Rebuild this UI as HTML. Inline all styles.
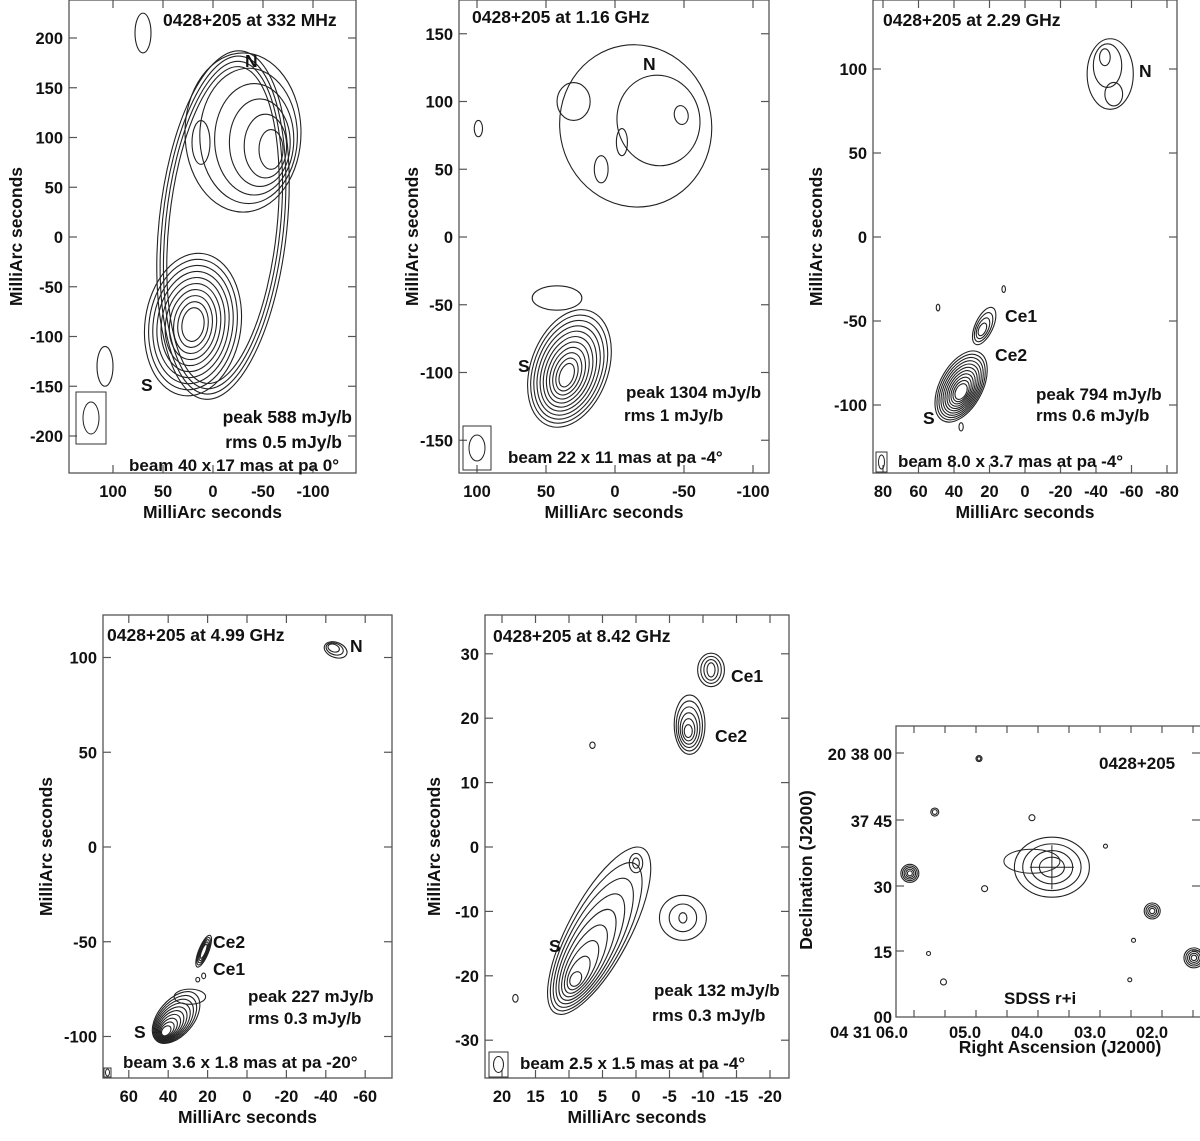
<!DOCTYPE html>
<html><head><meta charset="utf-8"><style>
html,body{margin:0;padding:0;background:#fff;}
svg{display:block;}
text{font-family:"Liberation Sans",Arial,sans-serif;font-weight:bold;fill:#111;}
</style></head><body>
<svg id="fig" width="1200" height="1141" viewBox="0 0 1200 1141" xmlns="http://www.w3.org/2000/svg"></svg>
<script>
// ---- Data (components: [cx,cy,rx,ry,innerCx,innerCy,innerRx,innerRy,rotDeg,levels]) ----
const p1Components=[[-10,12,64,176,-10,12,54,160,6,4],[20,-88,48,72,20,-88,11,17,8,10],[-30,105,58,80,-58,88,12,20,0,6],[12,95,9,22,12,92,7,14,0,1],[70,205,8,20,70,205,8,20,0,1],[108,-130,8,20,108,-130,8,20,0,1]];
const p2Components=[[-15,82,55,60,-48,90,5,7,-10,3],[30,100,12,14,30,100,9,11,0,1],[33,-97,28,45,35,-102,5,9,20,11],[42,-45,18,9,42,-45,14,7,0,1],[99,80,3,6,99,80,3,6,0,1],[-5,70,4,10,-5,72,3,8,0,1],[10,50,5,10,10,50,4,8,0,1]];
const p3Components=[[-48,97,13,21,-45,107,3,5,0,3],[-50,85,5,7,-50,85,3,4,0,1],[36,-89,12,23,36,-92,3,5,28,11],[23,-53,5,12,24,-55,2,4,25,4],[49,-42,1,2,49,-42,1,2,0,1],[12,-31,1,2,12,-31,1,2,0,1],[36,-113,1.2,2.5,36,-113,1.2,2.5,0,1]];
const p4Components=[[-45,104,6,4,-44,105,3,2,20,3],[22,-55,2.5,9,22,-55,1,4,22,5],[36,-90,9,16,41,-97,2,3,40,10],[29,-79,8,4,29,-79,7,3,0,1],[22,-68,1,1.5,22,-68,1,1.5,0,1],[25,-70,1,1.2,25,-70,1,1.2,0,1]];
const p5Components=[[-11.2,27.5,2,2.6,-11.2,27.5,0.6,1.1,0,4],[-8,19,2.3,4.6,-7.8,18,0.6,1,0,6],[5.5,-13,4.6,14.5,9,-20.5,0.8,1.2,28,9],[-7,-11,3.5,3.5,-7,-11,0.6,0.8,0,3],[0,-2.5,1,1.5,0,-2.5,0.5,0.8,0,2],[18,-23.5,0.4,0.6,18,-23.5,0.4,0.6,0,1],[6.5,15.8,0.4,0.5,6.5,15.8,0.4,0.5,0,1]];
// SDSS panel: RA seconds, Dec arcsec (relative to 20 37 00), radius px, levels
const p6Ra=[3.61,5.89,2.0,1.33,4.78,5.49,4.69,2.75,5.35,5.59,2.3,2.36,3.93];
const p6Dec=[34.2,32.8,24.2,13.5,59,46.8,29.3,39,8,14.5,17.5,8.5,45.5];
const p6Rad=[30,9,8,10,3,4,3,2,3,2,2,2,3];
const p6Lev=[4,5,4,5,2,2,1,1,1,1,1,1,1];
</script>
<script>
const svg=document.getElementById('fig');
const NS='http://www.w3.org/2000/svg';
function mk(tag,attrs,parent){const e=document.createElementNS(NS,tag);for(const k in attrs)e.setAttribute(k,attrs[k]);(parent||svg).appendChild(e);return e;}
function txt(x,y,s,size,anchor,parent,rot){const t=mk('text',{x:x,y:y,'font-size':size,'text-anchor':anchor||'start'},parent);if(rot)t.setAttribute('transform','rotate(-90 '+x+' '+y+')');t.textContent=s;return t;}

function panel(cfg){
  const g=mk('g',{});
  
  
  const [L,T,R,B]=cfg.frame;
  const X=v=>cfg.x0-v*cfg.sx, Y=v=>cfg.y0-v*cfg.sy;
  const fr=mk('rect',{x:L,y:T,width:R-L,height:B-T,fill:'none',stroke:'#555','stroke-width':1.3},g);
  
  
  cfg.xt.forEach(v=>{const px=X(v);
    mk('line',{x1:px,y1:B,x2:px,y2:B-8,stroke:'#555','stroke-width':1.2},g);
    mk('line',{x1:px,y1:T,x2:px,y2:T+8,stroke:'#555','stroke-width':1.2},g);
    const t=txt(px,B+24,String(v),16.5,'middle',g);
    });
  cfg.yt.forEach(v=>{const py=Y(v);
    mk('line',{x1:L,y1:py,x2:L+8,y2:py,stroke:'#555','stroke-width':1.2},g);
    mk('line',{x1:R,y1:py,x2:R-8,y2:py,stroke:'#555','stroke-width':1.2},g);
    const t=txt(L-6,py+6,String(v),16.5,'end',g);
    });
  const xt=txt((L+R)/2,B+45,'MilliArc seconds',17.5,'middle',g);
  
  const yt=txt(cfg.ytx,(T+B)/2,'MilliArc seconds',17.5,'middle',g,true);
  
  cfg.comps.forEach(c=>{
    const [cx,cy,rx,ry,ix,iy,irx,iry,rot,n]=c;
    for(let k=0;k<n;k++){
      const f=n>1?k/(n-1):0;
      const ex=X(cx+(ix-cx)*f), ey=Y(cy+(iy-cy)*f);
      const erx=(rx+(irx-rx)*f)*cfg.sx, ery=(ry+(iry-ry)*f)*cfg.sy;
      const e=mk('ellipse',{cx:ex,cy:ey,rx:Math.max(erx,0.5),ry:Math.max(ery,0.5),fill:'none',stroke:'#222','stroke-width':1.1,transform:'rotate('+rot+' '+ex+' '+ey+')'},g);
      
      
    }
  });
  if(cfg.beam){const b=cfg.beam;
    const bx=mk('rect',{x:b[0],y:b[1],width:b[2],height:b[3],fill:'none',stroke:'#333','stroke-width':1},g);
    
    const be=mk('ellipse',{cx:b[0]+b[2]/2,cy:b[1]+b[3]/2,rx:b[4],ry:b[5],fill:'none',stroke:'#222','stroke-width':1},g);
    }
  cfg.labels.forEach(l=>{const t=txt(l[0],l[1],l[2],l[3]||17,l[4]||'start',g);
    });
}

panel({name:'panel-332mhz',frame:[69,0,356,473],x0:213,sx:1.0,y0:237,sy:0.995,
  xt:[100,50,0,-50,-100],yt:[200,150,100,50,0,-50,-100,-150,-200],ytx:22,comps:p1Components,
  beam:[76,392,30,52,8,16],
  labels:[[163,26,'0428+205 at 332 MHz',17.5,'start','panel-title'],[245,67,'N',17.5,'start','label-n'],[141,391,'S',17.5,'start','label-s'],
  [352,423,'peak 588 mJy/b',17.5,'end','peak-text'],[342,448,'rms 0.5 mJy/b',17.5,'end','rms-text'],[339,471,'beam 40 x 17 mas at pa 0°',17,'end','beam-text']]});
panel({name:'panel-1p16ghz',frame:[459,0,769,473],x0:615,sx:1.38,y0:237,sy:1.355,
  xt:[100,50,0,-50,-100],yt:[150,100,50,0,-50,-100,-150],ytx:418,comps:p2Components,
  beam:[463,426,28,44,8,13],
  labels:[[472,23,'0428+205 at 1.16 GHz',17.5,'start','panel-title'],[643,70,'N',17.5,'start','label-n'],[518,372,'S',17.5,'start','label-s'],
  [626,398,'peak 1304 mJy/b',17,'start','peak-text'],[624,421,'rms 1 mJy/b',17,'start','rms-text'],[508,463,'beam 22 x 11 mas at pa -4°',17,'start','beam-text']]});
panel({name:'panel-2p29ghz',frame:[873,0,1177,473],x0:1025,sx:1.775,y0:237,sy:1.68,
  xt:[80,60,40,20,0,-20,-40,-60,-80],yt:[100,50,0,-50,-100],ytx:822,comps:p3Components,
  beam:[876,452,11,20,3,7],
  labels:[[883,26,'0428+205 at 2.29 GHz',17.5,'start','panel-title'],[1139,77,'N',17.5,'start','label-n'],[1005,322,'Ce1',17.5,'start','label-ce1'],[995,361,'Ce2',17.5,'start','label-ce2'],[923,424,'S',17.5,'start','label-s'],
  [1036,400,'peak 794 mJy/b',17,'start','peak-text'],[1036,421,'rms 0.6 mJy/b',17,'start','rms-text'],[898,467,'beam 8.0 x 3.7 mas at pa -4°',17,'start','beam-text']]});
panel({name:'panel-4p99ghz',frame:[103,615,392,1078],x0:247,sx:1.97,y0:847,sy:1.895,
  xt:[60,40,20,0,-20,-40,-60],yt:[100,50,0,-50,-100],ytx:52,comps:p4Components,
  beam:[104,1068,7,9,2,3.5],
  labels:[[107,641,'0428+205  at 4.99 GHz',17.5,'start','panel-title'],[350,652,'N',17.5,'start','label-n'],[213,948,'Ce2',17.5,'start','label-ce2'],[213,975,'Ce1',17.5,'start','label-ce1'],[134,1038,'S',17.5,'start','label-s'],
  [248,1002,'peak 227 mJy/b',17,'start','peak-text'],[248,1024,'rms 0.3 mJy/b',17,'start','rms-text'],[123,1068,'beam 3.6 x 1.8 mas at pa -20°',17,'start','beam-text']]});
panel({name:'panel-8p42ghz',frame:[485,615,789,1078],x0:636,sx:6.7,y0:847,sy:6.44,
  xt:[20,15,10,5,0,-5,-10,-15,-20],yt:[30,20,10,0,-10,-20,-30],ytx:440,comps:p5Components,
  beam:[489,1052,19,25,5,8],
  labels:[[493,642,'0428+205 at 8.42 GHz',17.5,'start','panel-title'],[731,682,'Ce1',17.5,'start','label-ce1'],[715,742,'Ce2',17.5,'start','label-ce2'],[549,952,'S',17.5,'start','label-s'],
  [654,996,'peak 132 mJy/b',17,'start','peak-text'],[652,1021,'rms 0.3 mJy/b',17,'start','rms-text'],[520,1069,'beam 2.5 x 1.5 mas at pa -4°',17,'start','beam-text']]});

// SDSS optical panel
(function(){
  const g=mk('g',{});
  
  
  const L=896,T=726,R=1200,B=1017;
  const X=ra=>903+(6.0-ra)*62.3, Y=d=>1017-d*4.38;
  const clip=mk('clipPath',{id:'sdssclip'},g);
  mk('rect',{x:L,y:T,width:R-L+2,height:B-T},clip);
  const fr=mk('rect',{x:L,y:T,width:R-L+2,height:B-T,fill:'none',stroke:'#555','stroke-width':1.3},g);
  
  for(let k=0;k<10;k++){const px=914+31*k;
    mk('line',{x1:px,y1:T,x2:px,y2:T+7,stroke:'#555','stroke-width':1.2},g);
    mk('line',{x1:px,y1:B,x2:px,y2:B-7,stroke:'#555','stroke-width':1.2},g);}
  [753,820,886,951].forEach(py=>{
    mk('line',{x1:L,y1:py,x2:L+8,y2:py,stroke:'#555','stroke-width':1.2},g);
    mk('line',{x1:R,y1:py,x2:R-8,y2:py,stroke:'#555','stroke-width':1.2},g);});
  const yl=[['20 38 00',760],['37 45',827],['30',893],['15',958],['00',1023]];
  yl.forEach(a=>{const t=txt(892,a[1],a[0],16.5,'end',g);});
  const xl=[['04 31 06.0',869],['05.0',965],['04.0',1027],['03.0',1090],['02.0',1152]];
  xl.forEach(a=>{const t=txt(a[1],1038,a[0],16.5,'middle',g);});
  let t=txt(1060,1053,'Right Ascension (J2000)',17.5,'middle',g);
  t=txt(812,870,'Declination (J2000)',17.5,'middle',g,true);
  t=txt(1099,769,'0428+205',17,'start',g);
  t=txt(1004,1004,'SDSS r+i',17,'start',g);
  const cg=mk('g',{'clip-path':'url(#sdssclip)'},g);
  p6Ra.forEach((ra,i)=>{const cx=X(ra),cy=Y(p6Dec[i]);const r=p6Rad[i],n=p6Lev[i];
    for(let k=0;k<n;k++){const rr=r*(1-k/(n+0.5));
      const e=mk('ellipse',{cx:cx,cy:cy,rx:i==0?rr*1.25:rr,ry:rr,fill:'none',stroke:'#222','stroke-width':1.1},cg);
      }
  });
  const c=[X(p6Ra[0]),Y(p6Dec[0])];
  let l=mk('line',{x1:c[0]-22,y1:c[1],x2:c[0]+22,y2:c[1],stroke:'#222','stroke-width':1},cg);
  
  l=mk('line',{x1:c[0],y1:c[1]-22,x2:c[0],y2:c[1]+22,stroke:'#222','stroke-width':1},cg);
  
  const ext=mk('ellipse',{cx:c[0]-20,cy:c[1]-6,rx:28,ry:12,fill:'none',stroke:'#222','stroke-width':1},cg);
  
})();
</script>
</body></html>
